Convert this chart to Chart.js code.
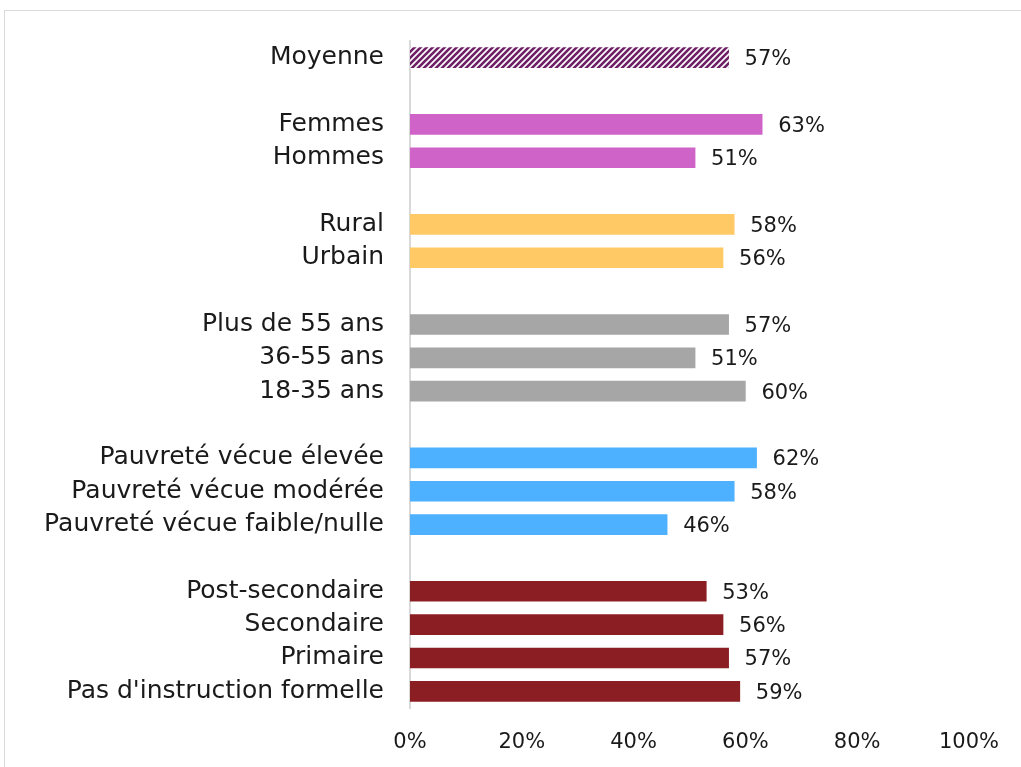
<!DOCTYPE html>
<html>
<head>
<meta charset="utf-8">
<script src="https://cdn.jsdelivr.net/npm/chart.js@4.4.1/dist/chart.umd.min.js"></script>
<style>
  html, body { margin:0; padding:0; background:#fff; }
  #wrap { position:relative; width:1021px; height:767px; overflow:hidden; }
  #frame { position:absolute; left:4px; top:10px; width:1040px; height:800px; border:1px solid #d9d9d9; }
  #wrap canvas { position:absolute; left:0; top:0; }
</style>
</head>
<body>
<div id="wrap">
  <div id="frame"></div>
  <canvas id="chart" width="1021" height="767"></canvas>
</div>
<script>
// catégories (les chaînes vides sont les espaces entre groupes)
const categories = [
  'Moyenne', '',
  'Femmes', 'Hommes', '',
  'Rural', 'Urbain', '',
  'Plus de 55 ans', '36-55 ans', '18-35 ans', '',
  'Pauvreté vécue élevée', 'Pauvreté vécue modérée', 'Pauvreté vécue faible/nulle', '',
  'Post-secondaire', 'Secondaire', 'Primaire', "Pas d'instruction formelle"
];
const values = [
  57, null,
  63, 51, null,
  58, 56, null,
  57, 51, 60, null,
  62, 58, 46, null,
  53, 56, 57, 59
];
const groupOf = [
  'moy', null,
  'sexe', 'sexe', null,
  'milieu', 'milieu', null,
  'age', 'age', 'age', null,
  'pauv', 'pauv', 'pauv', null,
  'educ', 'educ', 'educ', 'educ'
];
const xTicks = [0, 20, 40, 60, 80, 100];

// motif hachuré pour la moyenne
function makeHatch(){
  const c = document.createElement('canvas');
  c.width = 6; c.height = 6;
  const g = c.getContext('2d');
  g.fillStyle = '#ffffff';
  g.fillRect(0,0,6,6);
  g.strokeStyle = '#6e1f66';
  g.lineWidth = 2.6;
  g.beginPath();
  g.moveTo(-3,3); g.lineTo(3,-3);
  g.moveTo(0,6); g.lineTo(6,0);
  g.moveTo(3,9); g.lineTo(9,3);
  g.stroke();
  return document.getElementById('chart').getContext('2d').createPattern(c,'repeat');
}

const colors = {
  moy: makeHatch(),
  sexe: '#d063c8',
  milieu: '#ffc966',
  age: '#a6a6a6',
  pauv: '#4db1ff',
  educ: '#8b1e23'
};
const barColors = groupOf.map(g => g ? colors[g] : 'rgba(0,0,0,0)');

const FONT = '"DejaVu Sans", sans-serif';

// étiquettes de valeur à droite des barres
const valueLabels = {
  id:'valueLabels',
  afterDatasetsDraw(chart){
    const ctx = chart.ctx;
    const meta = chart.getDatasetMeta(0);
    ctx.save();
    ctx.font = '21px ' + FONT;
    ctx.fillStyle = '#1a1a1a';
    ctx.textBaseline = 'middle';
    ctx.textAlign = 'left';
    meta.data.forEach((bar, i) => {
      if(values[i] == null) return;
      ctx.fillText(values[i] + '%', bar.x + 16, bar.y + 2);
    });
    ctx.restore();
  }
};

new Chart(document.getElementById('chart').getContext('2d'), {
  type:'bar',
  data:{
    labels: categories,
    datasets:[{
      data: values,
      backgroundColor: barColors,
      borderWidth:0,
      barThickness:20
    }]
  },
  options:{
    indexAxis:'y',
    responsive:false,
    animation:false,
    layout:{ padding:{ top:39, right:51, bottom:0, left:0 } },
    plugins:{ legend:{display:false}, tooltip:{enabled:false} },
    scales:{
      x:{
        min:0, max:100,
        afterBuildTicks(scale){ scale.ticks = xTicks.map(v => ({value:v})); },
        afterFit(scale){ scale.height = 59; },
        grid:{ display:false, drawTicks:false },
        border:{ display:false },
        ticks:{
          padding:22,
          color:'#1a1a1a',
          font:{ family:FONT, size:21 },
          callback: v => v + '%'
        }
      },
      y:{
        afterFit(scale){ scale.width = 410; },
        grid:{ display:false, drawTicks:false },
        border:{ display:true, color:'#d9d9d9', width:2 },
        ticks:{
          padding:26,
          color:'#1a1a1a',
          autoSkip:false,
          font:{ family:FONT, size:25 }
        }
      }
    }
  },
  plugins:[valueLabels]
});
</script>
</body>
</html>
